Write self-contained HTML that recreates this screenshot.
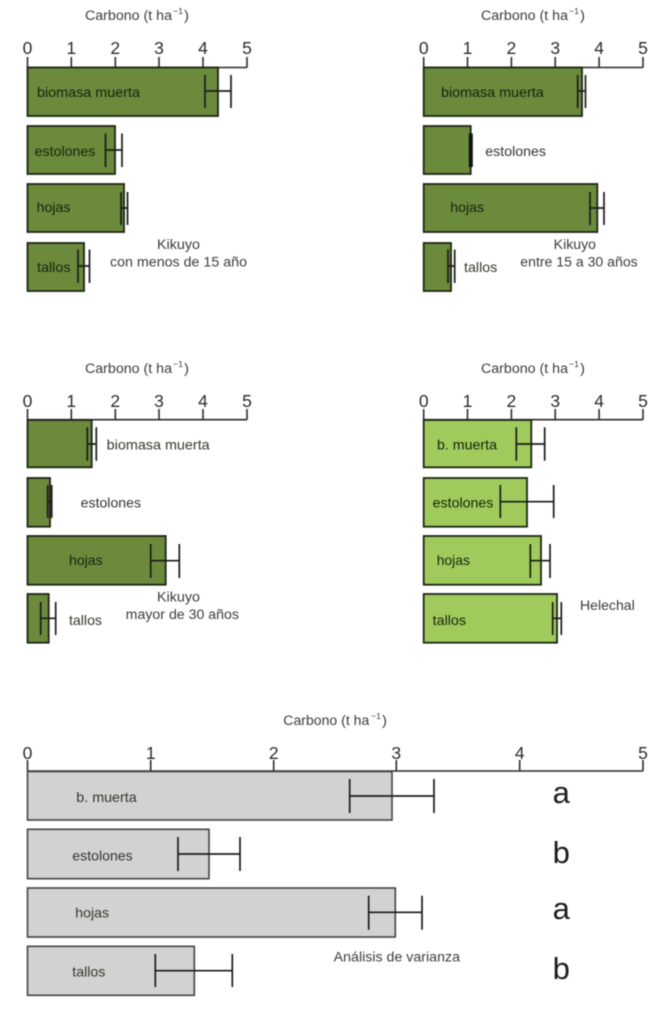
<!DOCTYPE html>
<html lang="es">
<head>
<meta charset="utf-8">
<title>Carbono</title>
<style>
html,body{margin:0;padding:0;background:#fff}
svg{display:block;filter:blur(.4px)}
text{font-family:"Liberation Sans",sans-serif}
.l{font-size:14px;fill:#33382c}
.i{font-size:14px;fill:#18220e}
.t{font-size:13.5px;fill:#3c3c3c}
.s{font-size:8.5px;fill:#3c3c3c}
.n{font-size:17.5px;fill:#2c2c2c;text-anchor:middle}
.L{font-size:31px;fill:#1c1c1c;text-anchor:middle}
.ax{stroke:#2c2c2c;stroke-width:1.6;fill:none}
.b1{fill:#6b8a3c;stroke:#1d2616;stroke-width:1.8}
.b2{fill:#a0cb5c;stroke:#1d2616;stroke-width:1.8}
.b3{fill:#d2d2d2;stroke:#444;stroke-width:1.6}
.e{stroke:#1c1c1c;stroke-width:1.7;fill:none}
</style>
</head>
<body>
<svg width="664" height="1012" viewBox="0 0 664 1012" xmlns="http://www.w3.org/2000/svg">

<!-- Panel 1 -->
<text class="t" x="85" y="20" textLength="87" lengthAdjust="spacingAndGlyphs">Carbono (t ha</text>
<text class="s" x="173" y="14" textLength="10" lengthAdjust="spacingAndGlyphs">−1</text>
<text class="t" x="184" y="20" textLength="5" lengthAdjust="spacingAndGlyphs">)</text>
<path class="ax" d="M27.5 67.5H247M27.5 57V67.5M71.3 57V67.5M115.3 57V67.5M159 57V67.5M203 57V67.5M247 57V67.5"/>
<text class="n" x="27.5" y="54">0</text><text class="n" x="71.3" y="54">1</text><text class="n" x="115.3" y="54">2</text><text class="n" x="159" y="54">3</text><text class="n" x="203" y="54">4</text><text class="n" x="247" y="54">5</text>
<rect class="b1" x="27.5" y="67.5" width="190.5" height="48.5"/>
<rect class="b1" x="27.5" y="126" width="87.5" height="48"/>
<rect class="b1" x="27.5" y="184" width="96.5" height="48"/>
<rect class="b1" x="27.5" y="243" width="56.5" height="48"/>
<path class="e" d="M205 75V108M231 75V108M205 91H231M105.5 133.5V167M122 133.5V167M105.5 150H122M121 192V225M127.5 192V225M121 208H127.5M78 249.5V283M89.5 249.5V283M78 266H89.5"/>
<text class="i" x="37" y="97" textLength="103" lengthAdjust="spacingAndGlyphs">biomasa muerta</text>
<text class="i" x="34.7" y="156" textLength="60.6" lengthAdjust="spacingAndGlyphs">estolones</text>
<text class="i" x="36.7" y="212" textLength="33.8" lengthAdjust="spacingAndGlyphs">hojas</text>
<text class="i" x="37" y="272" textLength="33.5" lengthAdjust="spacingAndGlyphs">tallos</text>
<text class="t" x="157" y="249" textLength="43" lengthAdjust="spacingAndGlyphs">Kikuyo</text>
<text class="t" x="110" y="266.7" textLength="137" lengthAdjust="spacingAndGlyphs">con menos de 15 año</text>

<!-- Panel 2 -->
<text class="t" x="481" y="20" textLength="87" lengthAdjust="spacingAndGlyphs">Carbono (t ha</text>
<text class="s" x="569" y="14" textLength="10" lengthAdjust="spacingAndGlyphs">−1</text>
<text class="t" x="580" y="20" textLength="5" lengthAdjust="spacingAndGlyphs">)</text>
<path class="ax" d="M423.7 67.5H643M423.7 57V67.5M467.5 57V67.5M511.4 57V67.5M555.2 57V67.5M599.1 57V67.5M643 57V67.5"/>
<text class="n" x="423.7" y="54">0</text><text class="n" x="467.5" y="54">1</text><text class="n" x="511.4" y="54">2</text><text class="n" x="555.2" y="54">3</text><text class="n" x="599.1" y="54">4</text><text class="n" x="643" y="54">5</text>
<rect class="b1" x="423.7" y="67.5" width="158.3" height="48.5"/>
<rect class="b1" x="423.7" y="126" width="47" height="48"/>
<rect class="b1" x="423.7" y="184" width="173.6" height="48"/>
<rect class="b1" x="423.7" y="243" width="27.3" height="48"/>
<path class="e" d="M577.7 75V108M585.5 75V108M577.7 91H585.5M590 192V225M604 192V225M590 208H604M448 249.5V283M454.7 249.5V283M448 266H454.7"/>
<path d="M470.8 133.5V167" stroke="#111" stroke-width="4" fill="none"/>
<text class="i" x="441" y="97" textLength="102.7" lengthAdjust="spacingAndGlyphs">biomasa muerta</text>
<text class="l" x="485.3" y="156" textLength="60.7" lengthAdjust="spacingAndGlyphs">estolones</text>
<text class="i" x="450.3" y="212" textLength="33.7" lengthAdjust="spacingAndGlyphs">hojas</text>
<text class="l" x="464" y="272" textLength="33.3" lengthAdjust="spacingAndGlyphs">tallos</text>
<text class="t" x="553.7" y="249" textLength="42.3" lengthAdjust="spacingAndGlyphs">Kikuyo</text>
<text class="t" x="520.3" y="266.7" textLength="117.4" lengthAdjust="spacingAndGlyphs">entre 15 a 30 años</text>

<!-- Panel 3 -->
<text class="t" x="85" y="373" textLength="87" lengthAdjust="spacingAndGlyphs">Carbono (t ha</text>
<text class="s" x="173" y="367" textLength="10" lengthAdjust="spacingAndGlyphs">−1</text>
<text class="t" x="184" y="373" textLength="5" lengthAdjust="spacingAndGlyphs">)</text>
<path class="ax" d="M27.5 419.7H247M27.5 409V419.7M71.3 409V419.7M115.3 409V419.7M159 409V419.7M203 409V419.7M247 409V419.7"/>
<text class="n" x="27.5" y="407">0</text><text class="n" x="71.3" y="407">1</text><text class="n" x="115.3" y="407">2</text><text class="n" x="159" y="407">3</text><text class="n" x="203" y="407">4</text><text class="n" x="247" y="407">5</text>
<rect class="b1" x="27.5" y="420" width="64.2" height="47.3"/>
<rect class="b1" x="27.5" y="478" width="22.5" height="48.7"/>
<rect class="b1" x="27.5" y="536" width="138.2" height="48.7"/>
<rect class="b1" x="27.5" y="594" width="21.2" height="48.7"/>
<path class="e" d="M87.3 427.3V460.7M96.3 427.3V460.7M87.3 444H96.3M47.7 485V518M51.7 485V518M47.7 501.7H51.7M150.7 544V578M179.3 544V578M150.7 560.7H179.3M40.7 602V635M55.7 602V635M40.7 618.3H55.7"/>
<text class="l" x="106.7" y="449.3" textLength="103" lengthAdjust="spacingAndGlyphs">biomasa muerta</text>
<text class="l" x="80.7" y="507.7" textLength="60.3" lengthAdjust="spacingAndGlyphs">estolones</text>
<text class="i" x="69" y="565" textLength="33.7" lengthAdjust="spacingAndGlyphs">hojas</text>
<text class="l" x="69" y="625" textLength="33" lengthAdjust="spacingAndGlyphs">tallos</text>
<text class="t" x="157" y="601.7" textLength="43" lengthAdjust="spacingAndGlyphs">Kikuyo</text>
<text class="t" x="125.7" y="619" textLength="113.3" lengthAdjust="spacingAndGlyphs">mayor de 30 años</text>

<!-- Panel 4 -->
<text class="t" x="481" y="373" textLength="87" lengthAdjust="spacingAndGlyphs">Carbono (t ha</text>
<text class="s" x="569" y="367" textLength="10" lengthAdjust="spacingAndGlyphs">−1</text>
<text class="t" x="580" y="373" textLength="5" lengthAdjust="spacingAndGlyphs">)</text>
<path class="ax" d="M423.7 419.7H643M423.7 409V419.7M467.5 409V419.7M511.4 409V419.7M555.2 409V419.7M599.1 409V419.7M643 409V419.7"/>
<text class="n" x="423.7" y="407">0</text><text class="n" x="467.5" y="407">1</text><text class="n" x="511.4" y="407">2</text><text class="n" x="555.2" y="407">3</text><text class="n" x="599.1" y="407">4</text><text class="n" x="643" y="407">5</text>
<rect class="b2" x="423.7" y="420" width="107.6" height="47.3"/>
<rect class="b2" x="423.7" y="478" width="103.3" height="48.7"/>
<rect class="b2" x="423.7" y="536" width="117.3" height="48.7"/>
<rect class="b2" x="423.7" y="594" width="133.3" height="48.7"/>
<path class="e" d="M516.3 427.3V460.7M544.7 427.3V460.7M516.3 444H544.7M500.3 485V518M553.7 485V518M500.3 501.7H553.7M530.3 544V578M550 544V578M530.3 560.7H550M552.7 602V635M561.3 602V635M552.7 618.3H561.3"/>
<text class="i" x="437" y="449.3" textLength="60" lengthAdjust="spacingAndGlyphs">b. muerta</text>
<text class="i" x="432.7" y="507.7" textLength="60.6" lengthAdjust="spacingAndGlyphs">estolones</text>
<text class="i" x="436.7" y="565" textLength="33.3" lengthAdjust="spacingAndGlyphs">hojas</text>
<text class="i" x="432.7" y="625" textLength="33.3" lengthAdjust="spacingAndGlyphs">tallos</text>
<text class="t" x="580" y="610" textLength="54.7" lengthAdjust="spacingAndGlyphs">Helechal</text>

<!-- Panel 5 -->
<text class="t" x="283.3" y="725" textLength="86" lengthAdjust="spacingAndGlyphs">Carbono (t ha</text>
<text class="s" x="371" y="719" textLength="10" lengthAdjust="spacingAndGlyphs">−1</text>
<text class="t" x="382" y="725" textLength="5" lengthAdjust="spacingAndGlyphs">)</text>
<path class="ax" d="M27.5 771H643M27.5 760V771M150.7 760V771M273.7 760V771M396.3 760V771M519.7 760V771M643 760V771"/>
<text class="n" x="27.5" y="759">0</text><text class="n" x="150.7" y="759">1</text><text class="n" x="273.7" y="759">2</text><text class="n" x="396.3" y="759">3</text><text class="n" x="519.7" y="759">4</text><text class="n" x="643" y="759">5</text>
<rect class="b3" x="27.5" y="771.5" width="364.5" height="48.5"/>
<rect class="b3" x="27.5" y="829.3" width="181.5" height="49.4"/>
<rect class="b3" x="27.5" y="888" width="367.8" height="49"/>
<rect class="b3" x="27.5" y="946.3" width="166.8" height="49"/>
<path class="e" d="M349.7 779V813M434 779V813M349.7 796H434M178 837V871M240 837V871M178 854H240M368.7 895.7V929.7M422 895.7V929.7M368.7 912.3H422M155.3 954V987M232.3 954V987M155.3 970.7H232.3"/>
<text class="l" x="76.3" y="802" textLength="60.4" lengthAdjust="spacingAndGlyphs">b. muerta</text>
<text class="l" x="72.3" y="860.7" textLength="60.4" lengthAdjust="spacingAndGlyphs">estolones</text>
<text class="l" x="75.3" y="917.3" textLength="33.7" lengthAdjust="spacingAndGlyphs">hojas</text>
<text class="l" x="72.3" y="976.7" textLength="33" lengthAdjust="spacingAndGlyphs">tallos</text>
<text class="t" x="333.7" y="961.7" textLength="126.3" lengthAdjust="spacingAndGlyphs">Análisis de varianza</text>
<text class="L" x="561.3" y="803">a</text>
<text class="L" x="561.3" y="863">b</text>
<text class="L" x="561.3" y="919">a</text>
<text class="L" x="561.3" y="979">b</text>
</svg>
</body>
</html>
